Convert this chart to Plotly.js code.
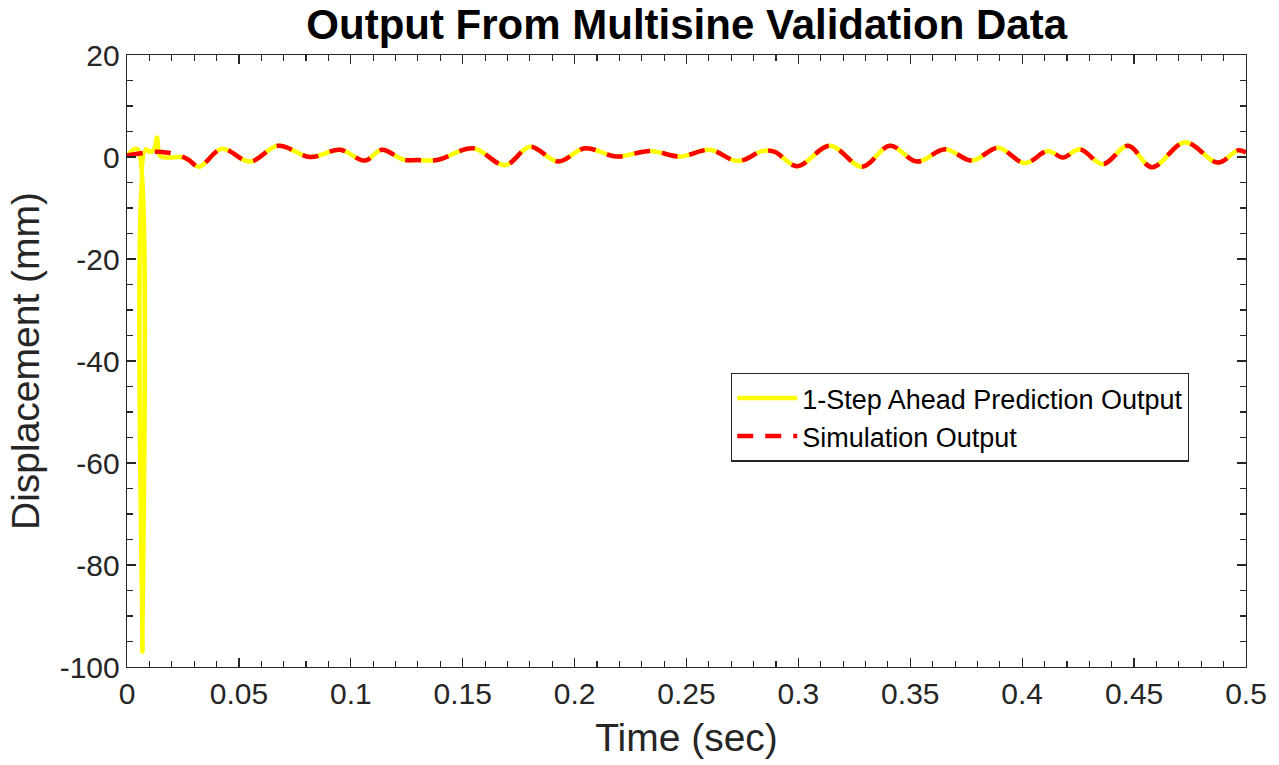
<!DOCTYPE html>
<html>
<head>
<meta charset="utf-8">
<script src="https://cdn.plot.ly/plotly-3.0.1.min.js"></script>
<style>
html,body{margin:0;padding:0;background:#fff;}
#chart{width:1279px;height:765px;}
</style>
</head>
<body>
<div id="chart"></div>
<script>
// Simulation output (red dashed): time (s) and displacement (mm) read at extrema
const simTime = [0, 0.0058, 0.0125, 0.0174, 0.0228, 0.0273, 0.0322, 0.0424, 0.0550, 0.0675, 0.0818, 0.0952, 0.1063, 0.1139, 0.1233, 0.1296, 0.1385, 0.1546, 0.1689, 0.1801, 0.1926, 0.2046, 0.2189, 0.2337, 0.2471, 0.2605, 0.2730, 0.2842, 0.2895, 0.2994, 0.3141, 0.3284, 0.3409, 0.3530, 0.3655, 0.3776, 0.3892, 0.4012, 0.4115, 0.4182, 0.4258, 0.4361, 0.4473, 0.4580, 0.4727, 0.4875, 0.4964, 0.5];
const simDisp = [0.3, 0.7, 1.0, 0.9, 0.4, -0.5, -1.9, 1.6, -0.9, 2.2, 0.0, 1.4, -0.7, 1.4, -0.5, -0.6, -0.6, 1.7, -1.6, 2.0, -0.9, 1.7, 0.1, 1.2, 0.1, 1.4, -0.8, 1.2, 1.0, -1.8, 2.2, -1.9, 2.2, -0.9, 1.5, -0.7, 1.8, -1.2, 1.2, -0.1, 1.5, -1.4, 2.2, -2.0, 2.9, -1.1, 1.3, 0.9];

// 1-step ahead prediction (yellow): start-up transient read separately, afterwards it follows the simulation
const predStartTime = [0, 0.0036, 0.0052, 0.0069, 0.0084, 0.0103, 0.0121, 0.0134, 0.0148, 0.0192, 0.0237];
const predStartDisp = [0.2, 1.6, 1.2, -97, 1.5, 1.0, 1.5, 3.8, 0.2, -0.1, 0.0];
const joinIndex = 5; // simulation samples from t = 0.0273 onward
const predTime = predStartTime.concat(simTime.slice(joinIndex));
const predDisp = predStartDisp.concat(simDisp.slice(joinIndex));

const xTicks = [0, 0.05, 0.1, 0.15, 0.2, 0.25, 0.3, 0.35, 0.4, 0.45, 0.5];
const xTickText = ["0", "0.05", "0.1", "0.15", "0.2", "0.25", "0.3", "0.35", "0.4", "0.45", "0.5"];
const yTicks = [-100, -80, -60, -40, -20, 0, 20];
const yTickText = ["-100", "-80", "-60", "-40", "-20", "0", "20"];

const FONT = "Liberation Sans, Arial, Helvetica, sans-serif";
const AX = "#262626";

const traces = [
  {
    x: predTime, y: predDisp, type: "scatter", mode: "lines",
    name: "1-Step Ahead Prediction Output",
    line: {color: "#FFFF00", width: 4.5, shape: "spline", smoothing: 1}
  },
  {
    x: simTime, y: simDisp, type: "scatter", mode: "lines",
    name: "Simulation Output",
    line: {color: "#FF0000", width: 4.5, dash: "16px,12px", shape: "spline", smoothing: 1}
  }
];

const axisCommon = {
  showgrid: false, zeroline: false,
  showline: true, linecolor: AX, linewidth: 1.3, mirror: "ticks",
  ticks: "inside", ticklen: 9, tickwidth: 1.3, tickcolor: AX,
  tickfont: {family: FONT, size: 30, color: AX},
  automargin: false
};

const layout = {
  width: 1279, height: 765,
  paper_bgcolor: "#fff", plot_bgcolor: "#fff",
  margin: {l: 127, r: 33, t: 55, b: 98},
  showlegend: true,
  title: {
    text: "<b>Output From Multisine Validation Data</b>",
    font: {family: FONT, size: 42, color: "#000"},
    x: 0.5369, xanchor: "center", y: 0.968, yanchor: "middle"
  },
  xaxis: Object.assign({}, axisCommon, {
    range: [0, 0.5], tickvals: xTicks, ticktext: xTickText,
    minor: {dtick: 0.01, ticks: "inside", ticklen: 6, tickwidth: 1.1, tickcolor: AX, showgrid: false},
    title: {text: "Time (sec)", font: {family: FONT, size: 39, color: AX}, standoff: 14}
  }),
  yaxis: Object.assign({}, axisCommon, {
    range: [-100, 20], tickvals: yTicks, ticktext: yTickText,
    minor: {dtick: 5, ticks: "inside", ticklen: 6, tickwidth: 1.1, tickcolor: AX, showgrid: false},
    title: {text: "Displacement (mm)", font: {family: FONT, size: 39, color: AX}, standoff: 8}
  }),
  legend: {
    x: 0.5397, y: 0.481, xanchor: "left", yanchor: "top",
    bgcolor: "#fff", bordercolor: "#262626", borderwidth: 1.3,
    font: {family: FONT, size: 27, color: "#000"},
    itemwidth: 60, tracegroupgap: 0
  }
};

Plotly.newPlot("chart", traces, layout, {displayModeBar: false, staticPlot: true});
</script>
</body>
</html>
